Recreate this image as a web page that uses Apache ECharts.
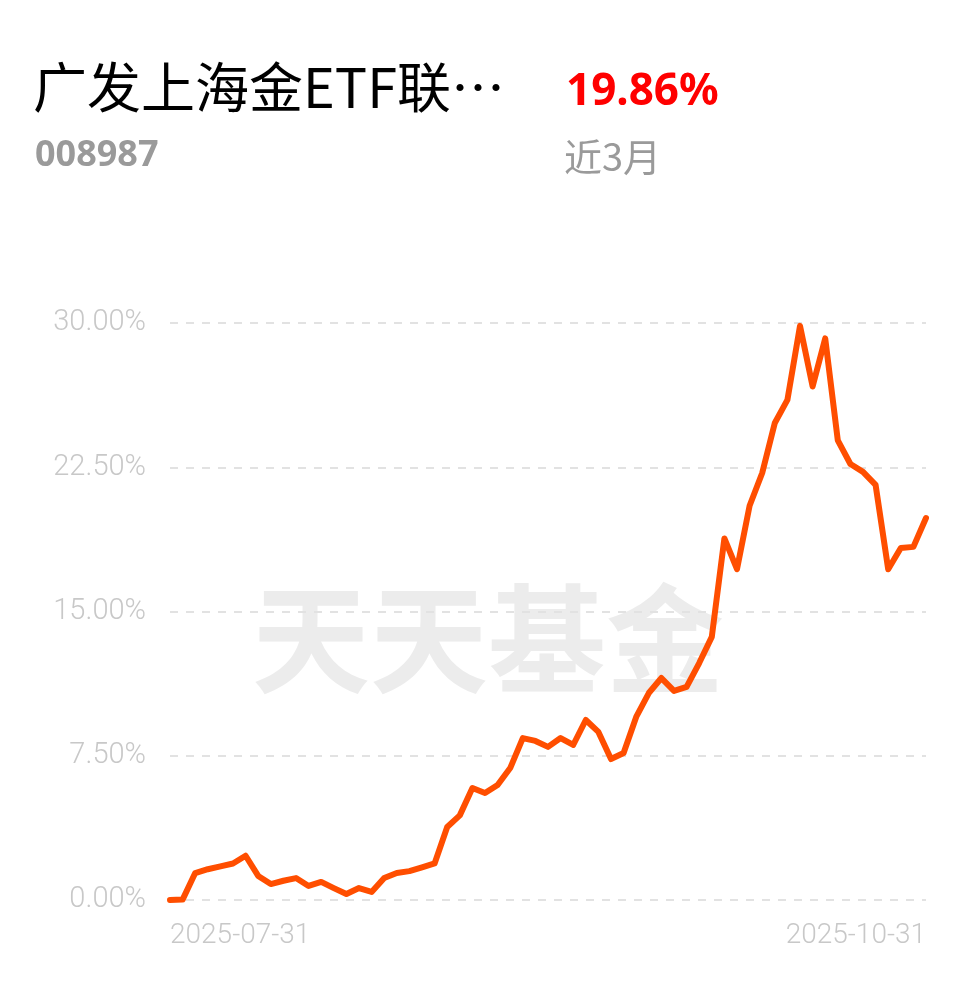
<!DOCTYPE html>
<html>
<head>
<meta charset="utf-8">
<title>广发上海金ETF联接 近3月</title>
<script src="https://cdn.jsdelivr.net/npm/echarts@6/dist/echarts.min.js"></script>
<style>
	html, body { margin: 0; padding: 0; background: #fff; }
	#chart { width: 978px; height: 986px; }
</style>
</head>
<body>
<div id="chart"></div>
<script>
	// 交易日
	var dates = [
		'2025-07-31',
		'2025-08-01', '2025-08-04', '2025-08-05', '2025-08-06', '2025-08-07', '2025-08-08',
		'2025-08-11', '2025-08-12', '2025-08-13', '2025-08-14', '2025-08-15',
		'2025-08-18', '2025-08-19', '2025-08-20', '2025-08-21', '2025-08-22',
		'2025-08-25', '2025-08-26', '2025-08-27', '2025-08-28', '2025-08-29',
		'2025-09-01', '2025-09-02', '2025-09-03', '2025-09-04', '2025-09-05',
		'2025-09-08', '2025-09-09', '2025-09-10', '2025-09-11', '2025-09-12',
		'2025-09-15', '2025-09-16', '2025-09-17', '2025-09-18', '2025-09-19',
		'2025-09-22', '2025-09-23', '2025-09-24', '2025-09-25', '2025-09-26',
		'2025-09-29', '2025-09-30',
		'2025-10-09', '2025-10-10',
		'2025-10-13', '2025-10-14', '2025-10-15', '2025-10-16', '2025-10-17',
		'2025-10-20', '2025-10-21', '2025-10-22', '2025-10-23', '2025-10-24',
		'2025-10-27', '2025-10-28', '2025-10-29', '2025-10-30', '2025-10-31'
	]
	// 累计收益率 (%)
	var returns = [
		0.00, 0.02, 1.40, 1.60, 1.75, 1.90, 2.30, 1.25, 0.83, 1.00,
		1.14, 0.73, 0.94, 0.62, 0.31, 0.62, 0.42, 1.14, 1.40, 1.50,
		1.70, 1.90, 3.80, 4.40, 5.82, 5.56, 5.98, 6.86, 8.42, 8.27,
		7.96, 8.42, 8.06, 9.36, 8.74, 7.33, 7.64, 9.52, 10.76, 11.54,
		10.87, 11.08, 12.32, 13.68, 18.80, 17.20, 20.50, 22.20, 24.80, 26.00,
		29.85, 26.70, 29.20, 23.90, 22.67, 22.26, 21.58, 17.20, 18.30, 18.36,
		19.86
	]
	var yTicks = [0, 7.5, 15, 22.5, 30]

	var fundName = '广发上海金ETF联…'
	var fundCode = '008987'
	var periodReturn = '19.86%'
	var periodName = '近3月'

	var chart = echarts.init(document.getElementById('chart'))
	var option = {
		animation: false,
		grid: {
			left: 170,
			right: 52,
			top: 323,
			bottom: 86
		},
		graphic: [
			{
				type: 'text', left: 33, top: 60, z: 10,
				style: { text: fundName, fill: '#000', font: '54px "Noto Sans CJK SC"' }
			},
			{
				type: 'text', left: 35, top: 138, z: 10,
				style: { text: fundCode, fill: '#9a9a9a', font: 'bold 36px "Noto Sans"' }
			},
			{
				type: 'text', left: 566, top: 70, z: 10,
				style: { text: periodReturn, fill: '#ff0000', font: 'bold 44px "Noto Sans"' }
			},
			{
				type: 'text', left: 564, top: 138, z: 10,
				style: { text: periodName, fill: '#9a9a9a', font: '38px "Noto Sans CJK SC"' }
			},
			{
				// 水印
				type: 'text', left: 252, top: 580, z: 0,
				style: { text: '天天基金', fill: '#ececec', font: 'bold 118px "Noto Sans CJK SC"' }
			}
		],
		xAxis: {
			type: 'category',
			data: dates,
			boundaryGap: false,
			axisLine: { show: false },
			axisTick: { show: false },
			axisLabel: {
				interval: function (index) {
					return index === 0 || index === dates.length - 1
				},
				alignMinLabel: 'left',
				alignMaxLabel: 'right',
				color: '#c8c8c8',
				fontFamily: 'Roboto',
				fontWeight: 300,
				fontSize: 28,
				margin: 22
			}
		},
		yAxis: {
			type: 'value',
			min: 0,
			max: 30,
			interval: 7.5,
			axisLine: { show: false },
			axisTick: { show: false },
			axisLabel: {
				formatter: function (v) {
					return yTicks.indexOf(v) > -1 ? v.toFixed(2) + '%' : ''
				},
				color: '#c8c8c8',
				fontFamily: 'Roboto',
				fontWeight: 300,
				fontSize: 29,
				margin: 24
			},
			splitLine: {
				lineStyle: { color: '#e2e2e2', type: [8, 8], width: 2 }
			}
		},
		series: [
			{
				type: 'line',
				data: returns,
				showSymbol: false,
				z: 5,
				lineStyle: { color: '#ff4e00', width: 6, cap: 'round', join: 'round' }
			}
		]
	}
	chart.setOption(option)
	window.addEventListener('resize', function () {
		chart.resize();
	});
</script>
</body>
</html>
